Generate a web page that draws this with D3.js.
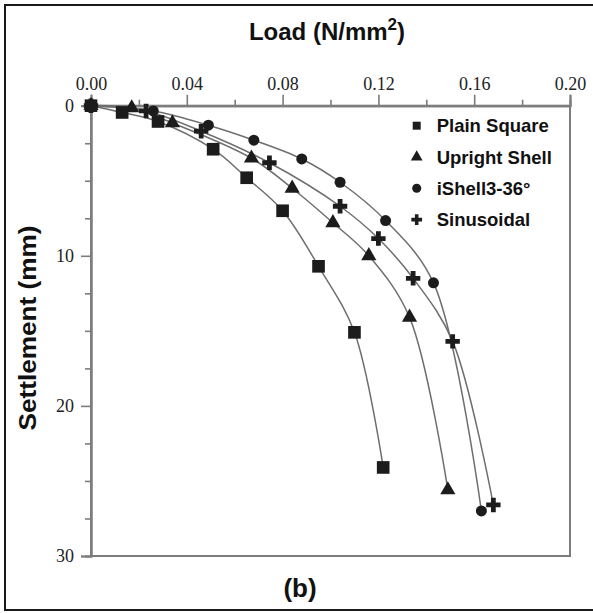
<!DOCTYPE html>
<html>
<head>
<meta charset="utf-8">
<script src="https://cdn.jsdelivr.net/npm/d3@7"></script>
<style>
  html, body { margin: 0; padding: 0; background: #fff; }
  svg { display: block; }
</style>
</head>
<body>
<svg id="chart" width="593" height="613"></svg>
<script>
// Plate load test: settlement against applied load for four footing shapes
const seriesNames = ["Plain Square", "Upright Shell", "iShell3-36\u00b0", "Sinusoidal"];
const symbolTypes = [d3.symbolSquare, d3.symbolTriangle, d3.symbolCircle, d3.symbolCross];

const plainLoad       = [0, 0.013, 0.028, 0.051, 0.065, 0.080, 0.095, 0.110, 0.122];
const plainSettle     = [0, 0.45, 1.05, 2.9, 4.8, 7.0, 10.7, 15.1, 24.1];
const uprightLoad     = [0, 0.017, 0.034, 0.067, 0.084, 0.101, 0.116, 0.133, 0.149];
const uprightSettle   = [0, 0.15, 1.15, 3.5, 5.5, 7.8, 10.0, 14.1, 25.6];
const ishellLoad      = [0, 0.026, 0.049, 0.068, 0.088, 0.104, 0.123, 0.143, 0.163];
const ishellSettle    = [0, 0.35, 1.3, 2.3, 3.55, 5.1, 7.65, 11.8, 27.0];
const sinusLoad       = [0, 0.023, 0.046, 0.0745, 0.104, 0.120, 0.1345, 0.151, 0.168];
const sinusSettle     = [0, 0.35, 1.7, 3.8, 6.7, 8.85, 11.5, 15.7, 26.6];

const xTickValues = [0, 0.04, 0.08, 0.12, 0.16, 0.20];
const yTickValues = [0, 10, 20, 30];

const loads   = [plainLoad, uprightLoad, ishellLoad, sinusLoad];
const settles = [plainSettle, uprightSettle, ishellSettle, sinusSettle];
const series = seriesNames.map((name, i) => ({
  name,
  symbol: symbolTypes[i],
  points: loads[i].map((x, j) => ({ x, y: settles[i][j] }))
}));

const svg = d3.select("#chart");
const plotLeft = 91, plotRight = 570, plotTop = 105.7, plotBottom = 556;

const x = d3.scaleLinear().domain([0, 0.20]).range([plotLeft, plotRight]);
const y = d3.scaleLinear().domain([0, 30]).range([plotTop, plotBottom]);

const axisGrey = "#7d7d7d";

// outer figure frame (right edge falls outside the canvas)
svg.append("rect")
  .attr("x", 5).attr("y", 5).attr("width", 620).attr("height", 605)
  .attr("fill", "none").attr("stroke", "#1a1a1a").attr("stroke-width", 2);

// plot frame
svg.append("rect")
  .attr("x", plotLeft).attr("y", plotTop)
  .attr("width", plotRight - plotLeft).attr("height", plotBottom - plotTop)
  .attr("fill", "none").attr("stroke", axisGrey).attr("stroke-width", 2);

// top axis (load)
const xAxis = svg.append("g").attr("transform", `translate(0,${plotTop})`)
  .call(d3.axisTop(x).tickValues(xTickValues).tickSize(11).tickFormat(d3.format(".2f")));
const xMinor = svg.append("g").attr("transform", `translate(0,${plotTop})`)
  .call(d3.axisTop(x).tickValues(d3.range(0.02, 0.2, 0.04)).tickSize(6).tickFormat(""));

// left axis (settlement)
const yAxis = svg.append("g").attr("transform", `translate(${plotLeft},0)`)
  .call(d3.axisLeft(y).tickValues(yTickValues).tickSize(10).tickFormat(d3.format("d")));
const yMinor = svg.append("g").attr("transform", `translate(${plotLeft},0)`)
  .call(d3.axisLeft(y).tickValues([2.5, 5, 7.5, 12.5, 15, 17.5, 22.5, 25, 27.5]).tickSize(6).tickFormat(""));

[xAxis, xMinor, yAxis, yMinor].forEach(g => {
  g.select(".domain").attr("stroke", axisGrey).attr("stroke-width", 2);
  g.selectAll(".tick line").attr("stroke", axisGrey).attr("stroke-width", 1.6);
});
xAxis.selectAll(".tick text")
  .attr("font-family", "'Liberation Serif', serif").attr("font-size", 18)
  .attr("fill", "#222").attr("y", -16);
yAxis.selectAll(".tick text")
  .attr("font-family", "'Liberation Serif', serif").attr("font-size", 18)
  .attr("fill", "#222").attr("x", -17);

// curves
const line = d3.line()
  .x(d => x(d.x)).y(d => y(d.y))
  .curve(d3.curveCatmullRom.alpha(0.5));

svg.append("g").selectAll("path")
  .data(series)
  .join("path")
  .attr("d", d => line(d.points))
  .attr("fill", "none")
  .attr("stroke", "#6e6e6e")
  .attr("stroke-width", 1.5);

// markers; plain square drawn last so it sits on top at the origin
const markerSize = [160, 100, 95, 115];
const drawOrder = [1, 2, 3, 0];
const markers = svg.append("g");
drawOrder.forEach(i => {
  const s = series[i];
  markers.append("g").selectAll("path")
    .data(s.points)
    .join("path")
    .attr("transform", d => `translate(${x(d.x)},${y(d.y)})`)
    .attr("d", d3.symbol().type(s.symbol).size(markerSize[i]))
    .attr("fill", "#1c1c1c");
});

// legend
const legendSize = [64, 60, 64, 64];
const legend = svg.append("g").attr("transform", "translate(416.7,125.7)");
series.forEach((s, i) => {
  const row = legend.append("g").attr("transform", `translate(0,${i * 31.3})`);
  row.append("path")
    .attr("d", d3.symbol().type(s.symbol).size(legendSize[i]))
    .attr("fill", "#1c1c1c");
  row.append("text")
    .attr("x", 20).attr("y", 0).attr("dy", "0.36em")
    .attr("font-family", "'Liberation Sans', Arial, sans-serif")
    .attr("font-weight", "bold").attr("font-size", 18.5)
    .attr("fill", "#111")
    .text(s.name);
});

// axis titles
const title = svg.append("text")
  .attr("x", 327).attr("y", 40)
  .attr("text-anchor", "middle")
  .attr("font-family", "'Liberation Sans', Arial, sans-serif")
  .attr("font-weight", "bold").attr("font-size", 24)
  .attr("fill", "#111");
title.append("tspan").text("Load (N/mm");
title.append("tspan").attr("dy", -10).attr("font-size", 17).text("2");
title.append("tspan").attr("dy", 10).text(")");

svg.append("text")
  .attr("transform", "translate(36,328) rotate(-90)")
  .attr("text-anchor", "middle")
  .attr("font-family", "'Liberation Sans', Arial, sans-serif")
  .attr("font-weight", "bold").attr("font-size", 24)
  .attr("textLength", 205).attr("lengthAdjust", "spacingAndGlyphs")
  .attr("fill", "#111")
  .text("Settlement (mm)");

svg.append("text")
  .attr("x", 300).attr("y", 597)
  .attr("text-anchor", "middle")
  .attr("font-family", "'Liberation Sans', Arial, sans-serif")
  .attr("font-weight", "bold").attr("font-size", 26)
  .attr("fill", "#111")
  .text("(b)");
</script>
</body>
</html>
